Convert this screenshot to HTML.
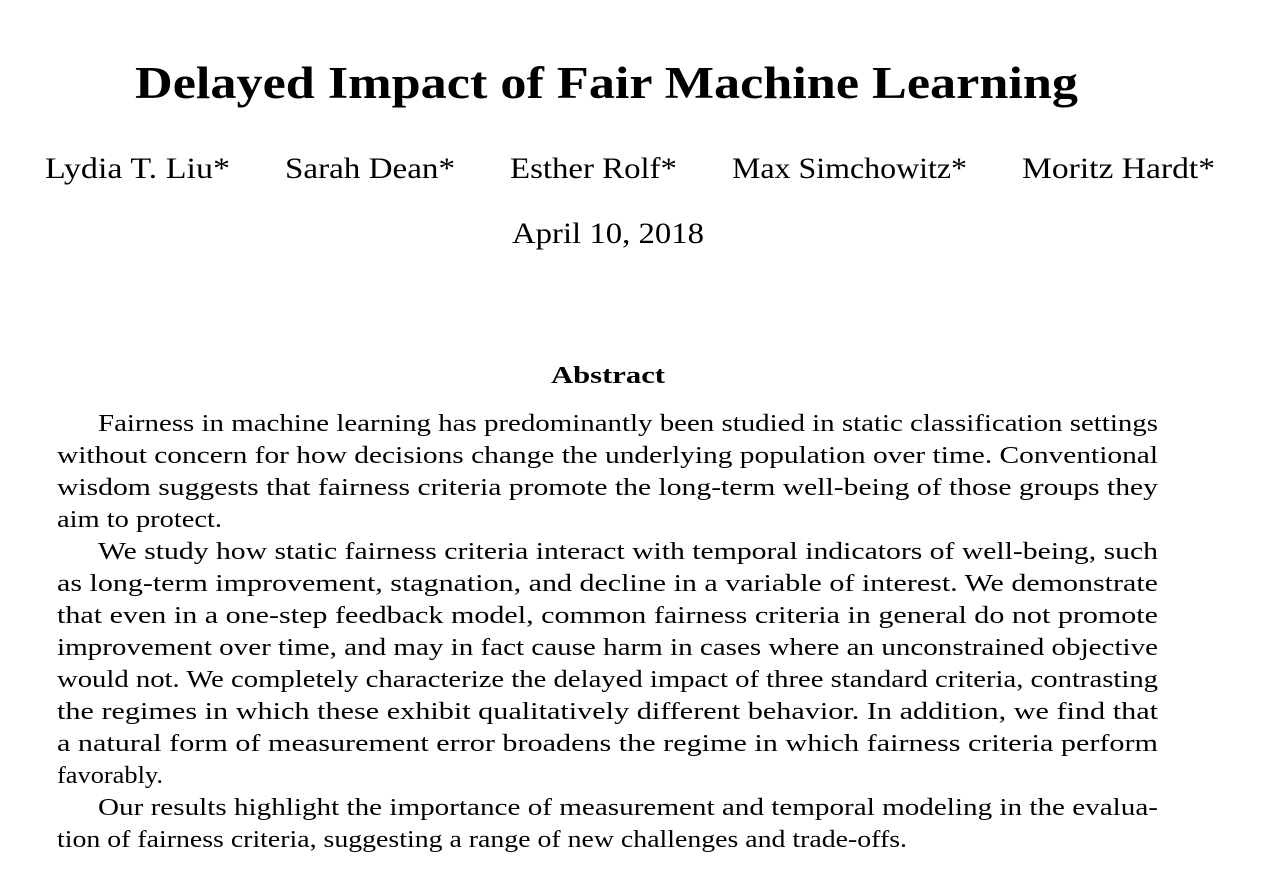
<!DOCTYPE html>
<html><head><meta charset="utf-8"><style>
html,body{margin:0;padding:0;background:#fff;width:1284px;height:894px;overflow:hidden}
svg text{font-family:"Liberation Serif",serif;fill:#000}
</style></head><body>
<svg width="1284" height="894" viewBox="0 0 1284 894" xmlns="http://www.w3.org/2000/svg">
<text x="135" y="98" font-size="45" font-weight="bold" textLength="943" lengthAdjust="spacingAndGlyphs">Delayed Impact of Fair Machine Learning</text>
<g font-size="30">
<text x="45" y="178" textLength="185" lengthAdjust="spacingAndGlyphs">Lydia T. Liu*</text>
<text x="285" y="178" textLength="170" lengthAdjust="spacingAndGlyphs">Sarah Dean*</text>
<text x="510" y="178" textLength="167" lengthAdjust="spacingAndGlyphs">Esther Rolf*</text>
<text x="732" y="178" textLength="235" lengthAdjust="spacingAndGlyphs">Max Simchowitz*</text>
<text x="1022" y="178" textLength="193" lengthAdjust="spacingAndGlyphs">Moritz Hardt*</text>
</g>
<text x="512" y="243" font-size="30" textLength="192" lengthAdjust="spacingAndGlyphs">April 10, 2018</text>
<text x="551" y="383" font-size="24" font-weight="bold" textLength="114" lengthAdjust="spacingAndGlyphs">Abstract</text>
<g font-size="24">
<text x="98" y="431" textLength="1060" lengthAdjust="spacingAndGlyphs">Fairness in machine learning has predominantly been studied in static classification settings</text>
<text x="57" y="463" textLength="1101" lengthAdjust="spacingAndGlyphs">without concern for how decisions change the underlying population over time. Conventional</text>
<text x="57" y="495" textLength="1101" lengthAdjust="spacingAndGlyphs">wisdom suggests that fairness criteria promote the long-term well-being of those groups they</text>
<text x="57" y="527" textLength="165" lengthAdjust="spacingAndGlyphs">aim to protect.</text>
<text x="98" y="559" textLength="1060" lengthAdjust="spacingAndGlyphs">We study how static fairness criteria interact with temporal indicators of well-being, such</text>
<text x="57" y="591" textLength="1101" lengthAdjust="spacingAndGlyphs">as long-term improvement, stagnation, and decline in a variable of interest. We demonstrate</text>
<text x="57" y="623" textLength="1101" lengthAdjust="spacingAndGlyphs">that even in a one-step feedback model, common fairness criteria in general do not promote</text>
<text x="57" y="655" textLength="1101" lengthAdjust="spacingAndGlyphs">improvement over time, and may in fact cause harm in cases where an unconstrained objective</text>
<text x="57" y="687" textLength="1101" lengthAdjust="spacingAndGlyphs">would not. We completely characterize the delayed impact of three standard criteria, contrasting</text>
<text x="57" y="719" textLength="1101" lengthAdjust="spacingAndGlyphs">the regimes in which these exhibit qualitatively different behavior. In addition, we find that</text>
<text x="57" y="751" textLength="1101" lengthAdjust="spacingAndGlyphs">a natural form of measurement error broadens the regime in which fairness criteria perform</text>
<text x="57" y="783" textLength="106" lengthAdjust="spacingAndGlyphs">favorably.</text>
<text x="98" y="815" textLength="1060" lengthAdjust="spacingAndGlyphs">Our results highlight the importance of measurement and temporal modeling in the evalua-</text>
<text x="57" y="847" textLength="850" lengthAdjust="spacingAndGlyphs">tion of fairness criteria, suggesting a range of new challenges and trade-offs.</text>
</g>
</svg>
</body></html>
